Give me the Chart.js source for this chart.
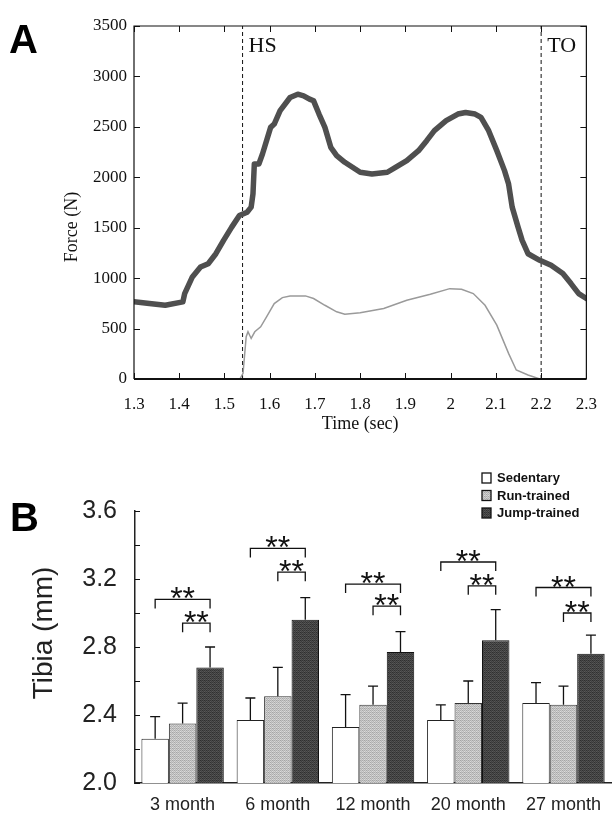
<!DOCTYPE html>
<html><head><meta charset="utf-8">
<script src="https://cdn.jsdelivr.net/npm/chart.js@4.4.0/dist/chart.umd.min.js"></script>
<style>
html,body{margin:0;padding:0;background:#fff;}
#wrap{position:relative;width:612px;height:824px;overflow:hidden;background:#fff;}
#cA{position:absolute;left:0;top:0;}
#cB{position:absolute;left:0;top:440px;}
.panel{position:absolute;font-weight:bold;font-size:40px;font-family:"Liberation Sans",Arial,sans-serif;color:#000;line-height:normal;}
</style></head>
<body><div id="wrap">
<canvas id="cA" width="612" height="440"></canvas>
<canvas id="cB" width="612" height="384"></canvas>
<div class="panel" style="left:9px;top:17px">A</div>
<div class="panel" style="left:10px;top:495px">B</div>
</div>
<script>
// ---------- Panel A data ----------
const forceTimes = [1.300,1.334,1.369,1.408,1.412,1.429,1.447,1.464,1.481,1.498,1.516,1.533,1.550,1.559,1.563,1.566,1.576,1.584,1.602,1.610,1.623,1.645,1.662,1.675,1.688,1.697,1.709,1.722,1.735,1.748,1.766,1.783,1.800,1.826,1.860,1.878,1.903,1.929,1.947,1.964,1.990,2.016,2.033,2.054,2.067,2.084,2.102,2.119,2.128,2.136,2.149,2.158,2.171,2.197,2.222,2.248,2.266,2.283,2.300];
const forceValues = [765,748,731,765,847,1012,1110,1143,1242,1374,1506,1621,1654,1704,1836,2132,2132,2231,2495,2528,2660,2791,2824,2808,2775,2758,2627,2495,2297,2215,2149,2099,2050,2033,2050,2099,2165,2264,2363,2462,2561,2627,2643,2627,2594,2462,2264,2066,1935,1704,1506,1374,1242,1177,1127,1045,946,847,798];
const plateTimes = [1.300,1.534,1.541,1.548,1.552,1.559,1.567,1.580,1.593,1.610,1.628,1.645,1.679,1.697,1.722,1.748,1.766,1.800,1.852,1.903,1.955,1.998,2.024,2.050,2.076,2.102,2.128,2.145,2.171,2.197,2.300];
const plateValues = [0,0,56,419,468,402,468,517,616,748,807,824,824,798,731,666,643,656,699,781,840,896,890,847,731,534,254,89,40,0,0];
const eventTimes = [1.54, 2.2];
const eventLabels = ['HS', 'TO'];
const timeRange = [1.3, 2.3];
const forceRange = [0, 3500];

// ---------- Panel B data ----------
const ageGroups = ['3 month','6 month','12 month','20 month','27 month'];
const seriesNames = ['Sedentary','Run-trained','Jump-trained'];
const sedentary   = [2.26, 2.37, 2.33, 2.37, 2.47];
const sedentarySD = [0.13, 0.13, 0.19, 0.09, 0.12];
const runTrained   = [2.35, 2.51, 2.46, 2.47, 2.46];
const runTrainedSD = [0.12, 0.17, 0.11, 0.13, 0.11];
const jumpTrained   = [2.68, 2.96, 2.77, 2.84, 2.76];
const jumpTrainedSD = [0.12, 0.13, 0.12, 0.18, 0.11];
const sigSedJump = [3.08, 3.38, 3.17, 3.30, 3.15];
const sigRunJump = [2.94, 3.24, 3.04, 3.16, 3.00];
const sigText = '**';
const tibiaRange = [2.0, 3.6];

const serif = "'Liberation Serif', 'Times New Roman', serif";
const sans = "'Liberation Sans', Arial, sans-serif";

// ---------- Panel A ----------
const topDeco = {
  id: 'topDeco',
  afterDatasetsDraw(chart) {
    const ctx = chart.ctx, ca = chart.chartArea, xs = chart.scales.x, ys = chart.scales.y;
    ctx.save();
    ctx.strokeStyle = '#111';
    ctx.lineWidth = 1.2;
    ctx.beginPath();
    ctx.moveTo(ca.left, ca.bottom); ctx.lineTo(ca.left, ca.top); ctx.lineTo(ca.right, ca.top); ctx.lineTo(ca.right, ca.bottom);
    ctx.stroke();
    ctx.lineWidth = 2;
    ctx.beginPath(); ctx.moveTo(ca.left, ca.bottom); ctx.lineTo(ca.right, ca.bottom); ctx.stroke();
    ctx.lineWidth = 1;
    ctx.beginPath();
    xs.ticks.forEach(t => {
      const p = Math.round(xs.getPixelForValue(t.value)) + 0.5;
      ctx.moveTo(p, ca.bottom); ctx.lineTo(p, ca.bottom - 6);
      ctx.moveTo(p, ca.top); ctx.lineTo(p, ca.top + 6);
    });
    ys.ticks.forEach(t => {
      const p = Math.round(ys.getPixelForValue(t.value)) + 0.5;
      ctx.moveTo(ca.left, p); ctx.lineTo(ca.left + 6, p);
      ctx.moveTo(ca.right, p); ctx.lineTo(ca.right - 6, p);
    });
    ctx.stroke();
    // event labels
    ctx.fillStyle = '#111';
    ctx.font = '22px ' + serif;
    ctx.textBaseline = 'middle';
    ctx.textAlign = 'left';
    eventTimes.forEach((t, i) => {
      ctx.fillText(eventLabels[i], xs.getPixelForValue(t) + 6, ca.top + 20);
    });
    // y title
    ctx.translate(72, 227);
    ctx.rotate(-Math.PI / 2);
    ctx.textAlign = 'center';
    ctx.font = '18px ' + serif;
    ctx.fillText('Force (N)', 0, 0);
    ctx.restore();
  }
};

new Chart(document.getElementById('cA'), {
  type: 'line',
  data: {
    datasets: [
      { label: 'Total', data: forceTimes.map((t, i) => ({x: t, y: forceValues[i]})), borderColor: '#4f4f4f', borderWidth: 5.5, pointRadius: 0, tension: 0, borderJoinStyle: 'round', borderCapStyle: 'round' },
      { label: 'Plate', data: plateTimes.map((t, i) => ({x: t, y: plateValues[i]})), borderColor: '#9a9a9a', borderWidth: 1.5, pointRadius: 0, tension: 0 },
      { label: eventLabels[0], data: [{x: eventTimes[0], y: forceRange[0]}, {x: eventTimes[0], y: forceRange[1]}], borderColor: '#111', borderWidth: 1, borderDash: [4, 3], pointRadius: 0 },
      { label: eventLabels[1], data: [{x: eventTimes[1], y: forceRange[0]}, {x: eventTimes[1], y: forceRange[1]}], borderColor: '#111', borderWidth: 1, borderDash: [4, 3], pointRadius: 0 }
    ]
  },
  options: {
    responsive: false, animation: false, devicePixelRatio: 1,
    layout: { padding: { top: 26, right: 18, left: 0, bottom: 0 } },
    plugins: { legend: { display: false }, tooltip: { enabled: false } },
    scales: {
      x: {
        type: 'linear', min: timeRange[0], max: timeRange[1],
        ticks: { stepSize: 0.1, autoSkip: false, maxRotation: 0, padding: 15, color: '#111', font: { family: serif, size: 17 }, callback: v => String(+(+v).toFixed(1)) },
        grid: { display: false, drawTicks: false }, border: { display: false },
        title: { display: true, text: 'Time (sec)', color: '#111', font: { family: serif, size: 18 }, padding: { top: 0, bottom: 5 } },
        afterFit(s) { s.height = 61; }
      },
      y: {
        min: forceRange[0], max: forceRange[1],
        ticks: { stepSize: 500, padding: 7, color: '#111', font: { family: serif, size: 17 }, callback: v => String(v) },
        grid: { display: false, drawTicks: false }, border: { display: false },
        afterFit(s) { s.width = 134; }
      }
    }
  },
  plugins: [topDeco]
});

// ---------- Panel B ----------
function texture(base, amp) {
  const bayer = [[0,8,2,10],[12,4,14,6],[3,11,1,9],[15,7,13,5]];
  const c = document.createElement('canvas'); c.width = 4; c.height = 4;
  const g = c.getContext('2d');
  for (let y = 0; y < 4; y++) for (let x = 0; x < 4; x++) {
    const v = Math.max(0, Math.min(255, Math.round(base + (bayer[y][x] / 15 - 0.5) * 2 * amp)));
    g.fillStyle = 'rgb(' + v + ',' + v + ',' + v + ')';
    g.fillRect(x, y, 1, 1);
  }
  return g.createPattern(c, 'repeat');
}
const fillSed = '#ffffff';
const fillRun = texture(192, 28);
const fillJump = texture(68, 22);
const sds = [sedentarySD, runTrainedSD, jumpTrainedSD];

const bottomDeco = {
  id: 'bottomDeco',
  afterDatasetsDraw(chart) {
    const ctx = chart.ctx, ca = chart.chartArea, ys = chart.scales.y;
    ctx.save();
    ctx.strokeStyle = '#111';
    ctx.lineWidth = 1.3;
    // error bars
    chart.data.datasets.forEach((ds, i) => {
      const meta = chart.getDatasetMeta(i);
      meta.data.forEach((bar, j) => {
        const top = ys.getPixelForValue(ds.data[j] + sds[i][j]);
        ctx.beginPath();
        ctx.moveTo(bar.x, bar.y); ctx.lineTo(bar.x, top);
        ctx.moveTo(bar.x - 5, top); ctx.lineTo(bar.x + 5, top);
        ctx.stroke();
      });
    });
    // significance brackets
    const m0 = chart.getDatasetMeta(0), m1 = chart.getDatasetMeta(1), m2 = chart.getDatasetMeta(2);
    ctx.fillStyle = '#111';
    ctx.font = '32px ' + sans;
    ctx.textAlign = 'center';
    ctx.textBaseline = 'alphabetic';
    const bracket = (xa, xb, v) => {
      const y = ys.getPixelForValue(v);
      ctx.beginPath();
      ctx.moveTo(xa, y + 9); ctx.lineTo(xa, y); ctx.lineTo(xb, y); ctx.lineTo(xb, y + 9);
      ctx.stroke();
      ctx.fillText(sigText, (xa + xb) / 2, y + 10);
    };
    ageGroups.forEach((g, j) => {
      bracket(m0.data[j].x, m2.data[j].x, sigSedJump[j]);
      bracket(m1.data[j].x, m2.data[j].x, sigRunJump[j]);
    });
    // inward y ticks
    ctx.lineWidth = 1;
    ctx.beginPath();
    ys.ticks.forEach(t => {
      const p = Math.round(ys.getPixelForValue(t.value)) + 0.5;
      ctx.moveTo(ca.left, p); ctx.lineTo(ca.left + 5, p);
    });
    ctx.stroke();
    // legend
    const fills = [fillSed, fillRun, fillJump];
    ctx.font = 'bold 13px ' + sans;
    ctx.textAlign = 'left';
    ctx.textBaseline = 'middle';
    seriesNames.forEach((name, i) => {
      const cy = 38 + i * 17.5;
      ctx.fillStyle = fills[i];
      ctx.fillRect(482, cy - 5, 9, 10);
      ctx.strokeStyle = '#111';
      ctx.lineWidth = 1.3;
      ctx.strokeRect(482, cy - 5, 9, 10);
      ctx.fillStyle = '#111';
      ctx.fillText(name, 497, cy + 0.5);
    });
    // y title
    ctx.translate(44, 193);
    ctx.rotate(-Math.PI / 2);
    ctx.textAlign = 'center';
    ctx.font = '28px ' + sans;
    ctx.fillStyle = '#222';
    ctx.fillText('Tibia (mm)', 0, 0);
    ctx.restore();
  }
};

new Chart(document.getElementById('cB'), {
  type: 'bar',
  data: {
    labels: ageGroups,
    datasets: [
      { label: seriesNames[0], data: sedentary, backgroundColor: fillSed, borderColor: '#222', borderWidth: 1 },
      { label: seriesNames[1], data: runTrained, backgroundColor: fillRun, borderColor: '#333', borderWidth: 1 },
      { label: seriesNames[2], data: jumpTrained, backgroundColor: fillJump, borderColor: '#111', borderWidth: 1 }
    ]
  },
  options: {
    responsive: false, animation: false, devicePixelRatio: 1,
    layout: { padding: { top: 71, right: 0, left: 0, bottom: 0 } },
    datasets: { bar: { categoryPercentage: 0.865, barPercentage: 1.0 } },
    plugins: { legend: { display: false }, tooltip: { enabled: false } },
    scales: {
      x: {
        grid: { display: false, drawTicks: false },
        border: { display: true, color: '#222', width: 1.5 },
        ticks: { padding: 11, color: '#222', font: { family: sans, size: 18 }, maxRotation: 0 },
        afterFit(s) { s.height = 41; }
      },
      y: {
        min: tibiaRange[0], max: tibiaRange[1],
        ticks: { stepSize: 0.2, padding: 18, color: '#222', font: { family: sans, size: 25 },
          callback: v => (Math.abs(Math.round(v * 10) % 4) === 0 ? (+v).toFixed(1) : '') },
        grid: { display: false, drawTicks: false },
        border: { display: true, color: '#222', width: 1.5 },
        afterFit(s) { s.width = 135; }
      }
    }
  },
  plugins: [bottomDeco]
});
</script>
</body></html>
